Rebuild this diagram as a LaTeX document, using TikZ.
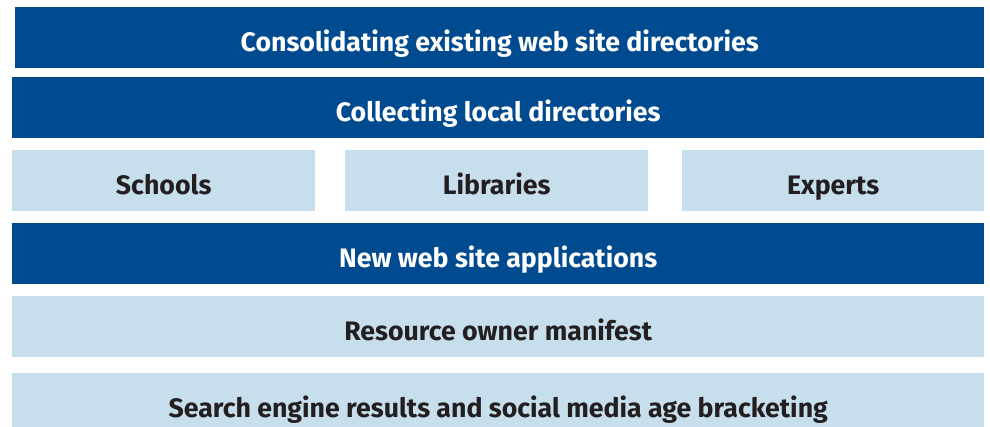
\documentclass[tikz,border=0pt]{standalone}
\usepackage{fontspec}
\setmainfont{Fira Sans}
\definecolor{darkband}{HTML}{004A8F}
\definecolor{lightband}{HTML}{C7DEED}
\definecolor{inktext}{HTML}{231F20}
\begin{document}
\begin{tikzpicture}[x=1pt,y=-1pt,
  band/.style={rectangle, inner sep=0pt, anchor=north west,
    minimum height=61pt, text height=27.5pt, text depth=0pt,
    font=\fontsize{26.7}{30}\selectfont\bfseries},
  darkbar/.style={band, fill=darkband, text=white},
  lightbar/.style={band, fill=lightband, text=inktext}]
\useasboundingbox (0,0) rectangle (990,426);
\clip (0,0) rectangle (990,426);
\node[darkbar, minimum width=969pt] (consolidate) at (15,7) {Consolidating existing web site directories};
\node[darkbar, minimum width=972pt] (collect) at (12,77) {Collecting local directories};
\node[lightbar, minimum width=303pt] (schools) at (12,150) {Schools};
\node[lightbar, minimum width=303pt] (libraries) at (345,150) {Libraries};
\node[lightbar, minimum width=302pt] (experts) at (682,150) {Experts};
\node[darkbar, minimum width=972pt] (newapps) at (12,223) {New web site applications};
\node[lightbar, minimum width=972pt] (manifest) at (12,296) {Resource owner manifest};
\node[lightbar, minimum width=972pt] (search) at (12,373) {Search engine results and social media age bracketing};
\end{tikzpicture}
\end{document}
